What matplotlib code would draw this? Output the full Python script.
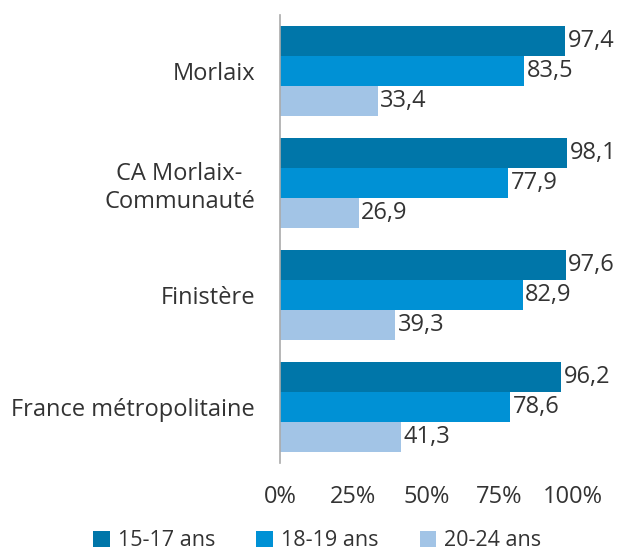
import matplotlib
matplotlib.use("Agg")
import matplotlib.pyplot as plt
from matplotlib.patches import Patch

categories = ["Morlaix", "CA Morlaix-\nCommunauté", "Finistère", "France métropolitaine"]
series_names = ["15-17 ans", "18-19 ans", "20-24 ans"]
v_15_17 = [97.4, 98.1, 97.6, 96.2]
v_18_19 = [83.5, 77.9, 82.9, 78.6]
v_20_24 = [33.4, 26.9, 39.3, 41.3]
xticks = [0, 25, 50, 75, 100]
xtick_labels = ["0%", "25%", "50%", "75%", "100%"]

colors = ["#0076a9", "#0091d5", "#a2c4e6"]
text_color = "#333333"
fs = 17

plt.rcParams['font.family'] = ['Open Sans', 'DejaVu Sans']

fig = plt.figure(figsize=(6.2, 5.52), dpi=100)
ax = fig.add_axes([280/620, 1-463/552, (572.6-280)/620, (463-15)/552])

bh = 30/112
series = [v_15_17, v_18_19, v_20_24]
for si, vals in enumerate(series):
    ys = [i + (si - 1) * bh for i in range(len(categories))]
    ax.barh(ys, vals, height=bh, color=colors[si], edgecolor="none")
    for y, v in zip(ys, vals):
        ax.text(v + 0.9, y, f"{v:.1f}".replace(".", ","), va="center", ha="left",
                fontsize=fs, color=text_color)

ax.set_xlim(0, 100)
ax.set_ylim(len(categories) - 0.5, -0.5)
ax.set_yticks(range(len(categories)))
ax.set_yticklabels(categories, fontsize=fs, color=text_color, ha="right")
ax.set_xticks(xticks)
ax.set_xticklabels(xtick_labels, fontsize=fs, color=text_color)
ax.tick_params(axis="y", length=0, pad=18)
ax.tick_params(axis="x", length=0, pad=16)
for s in ["top", "right", "bottom"]:
    ax.spines[s].set_visible(False)
ax.spines["left"].set_color("#aaaaaa")
ax.spines["left"].set_linewidth(1.2)
for lbl in ax.get_yticklabels():
    lbl.set_multialignment("center")

handles = [Patch(facecolor=c, edgecolor="none") for c in colors]
fig.legend(handles, series_names, loc="center", bbox_to_anchor=(0.512, 1-541/552),
           ncol=3, frameon=False, fontsize=15.5, handlelength=0.75, handleheight=0.75,
           handletextpad=0.4, columnspacing=1.9, labelcolor=text_color,
           borderpad=0.1)

fig.savefig("out.png", dpi=100)
